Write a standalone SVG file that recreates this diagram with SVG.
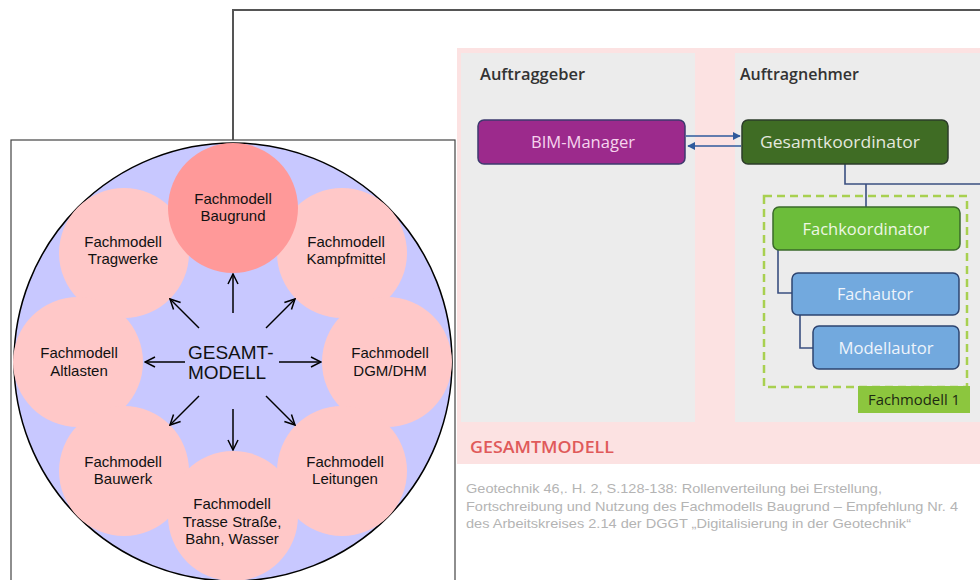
<svg xmlns="http://www.w3.org/2000/svg" width="980" height="580" viewBox="0 0 980 580">
<defs>
<marker id="open" viewBox="0 0 12 12" refX="11" refY="6" markerWidth="12" markerHeight="12" markerUnits="userSpaceOnUse" orient="auto">
<path d="M1,1 L11,6 L1,11" fill="none" stroke="#000" stroke-width="1.5"/>
</marker>
<marker id="blue" viewBox="0 0 10 10" refX="9" refY="5" markerWidth="8" markerHeight="8" markerUnits="userSpaceOnUse" orient="auto">
<path d="M0,0 L10,5 L0,10 Z" fill="#2f5a9c"/>
</marker>
<style>
.fm{font-family:"Liberation Sans",Arial,sans-serif;font-size:15px;fill:#111;text-anchor:middle}
.big{font-family:"Liberation Sans",Arial,sans-serif;font-size:19px;fill:#111}
.sub{fill:#ffc8c8}
.arr{stroke:#000;stroke-width:1.5;fill:none;marker-end:url(#open)}
.role{font-family:"Open Sans","DejaVu Sans",sans-serif;font-size:16px;text-anchor:middle}
.hd{font-family:"Open Sans","DejaVu Sans",sans-serif;font-size:16px;font-weight:600;fill:#333}
.cap{font-family:"Liberation Sans",Arial,sans-serif;font-size:13px;fill:#b4b4b4}
.con{stroke:#3a4f80;stroke-width:1.6;fill:none}
</style>
</defs>

<!-- connector frame line -->
<g id="connectors">
<path d="M233,140 V10 H980" fill="none" stroke="#555" stroke-width="2"/>
</g>

<!-- left panel -->
<g id="left-panel">
<rect x="11" y="140" width="444" height="460" fill="#fff" stroke="#444" stroke-width="1.2"/>
<circle cx="233" cy="362" r="219" fill="#c8c8ff" stroke="#000" stroke-width="1.5"/>
</g>

<g id="fm-tragwerke"><circle class="sub" cx="124" cy="253" r="65"/><text class="fm" x="123" y="247">Fachmodell</text><text class="fm" x="123" y="264">Tragwerke</text></g>
<g id="fm-kampfmittel"><circle class="sub" cx="342" cy="253" r="65"/><text class="fm" x="346" y="247">Fachmodell</text><text class="fm" x="346" y="264">Kampfmittel</text></g>
<g id="fm-altlasten"><circle class="sub" cx="78" cy="362" r="65"/><text class="fm" x="79" y="358">Fachmodell</text><text class="fm" x="79" y="376">Altlasten</text></g>
<g id="fm-dgm"><circle class="sub" cx="387" cy="362" r="65"/><text class="fm" x="390" y="358">Fachmodell</text><text class="fm" x="390" y="376">DGM/DHM</text></g>
<g id="fm-bauwerk"><circle class="sub" cx="124" cy="471" r="65"/><text class="fm" x="123" y="467">Fachmodell</text><text class="fm" x="123" y="484">Bauwerk</text></g>
<g id="fm-leitungen"><circle class="sub" cx="342" cy="471" r="65"/><text class="fm" x="345" y="467">Fachmodell</text><text class="fm" x="345" y="484">Leitungen</text></g>
<g id="fm-trasse"><circle class="sub" cx="233" cy="516" r="65"/><text class="fm" x="232" y="509">Fachmodell</text><text class="fm" x="232" y="527">Trasse Straße,</text><text class="fm" x="232" y="544">Bahn, Wasser</text></g>
<g id="fm-baugrund"><circle cx="233" cy="208" r="65" fill="#ff9999"/><text class="fm" x="233" y="204">Fachmodell</text><text class="fm" x="233" y="221">Baugrund</text></g>

<g id="gesamtmodell"><text class="big" x="188" y="359">GESAMT-</text><text class="big" x="188" y="379">MODELL</text></g>

<g id="arrows">
<line class="arr" x1="233" y1="313" x2="233" y2="274"/>
<line class="arr" x1="233" y1="409" x2="233" y2="450"/>
<line class="arr" x1="185" y1="362" x2="145" y2="362"/>
<line class="arr" x1="279" y1="362" x2="321" y2="362"/>
<line class="arr" x1="199" y1="328" x2="170" y2="299"/>
<line class="arr" x1="266" y1="328" x2="295" y2="299"/>
<line class="arr" x1="199" y1="396" x2="170" y2="425"/>
<line class="arr" x1="266" y1="396" x2="295" y2="425"/>
</g>

<!-- right figure -->
<g id="figure">
<rect x="457" y="48" width="523" height="416" fill="#fce2e2"/>
<rect x="461" y="53" width="234" height="369" fill="#ececec"/>
<rect x="735" y="53" width="245" height="369" fill="#ececec"/>
<text class="hd" x="480" y="80" textLength="105" lengthAdjust="spacingAndGlyphs">Auftraggeber</text>
<text class="hd" x="740" y="80" textLength="119" lengthAdjust="spacingAndGlyphs">Auftragnehmer</text>
<text x="470" y="453" font-family="'Open Sans','DejaVu Sans',sans-serif" font-size="16" font-weight="600" fill="#e05a5a" textLength="144" lengthAdjust="spacingAndGlyphs">GESAMTMODELL</text>
</g>

<g id="fachmodell1">
<rect x="764" y="196" width="203" height="191" fill="none" stroke="#a8d050" stroke-width="2.5" stroke-dasharray="8,5"/>
<rect x="858" y="386" width="112" height="27" fill="#8cc63e"/>
<text x="868" y="405" font-family="'Open Sans','DejaVu Sans',sans-serif" font-size="15" fill="#1d2a12" textLength="92" lengthAdjust="spacingAndGlyphs">Fachmodell 1</text>
</g>

<g id="figure-connectors">
<line x1="686" y1="136" x2="740" y2="136" stroke="#2f5a9c" stroke-width="1.6" marker-end="url(#blue)"/>
<line x1="741" y1="146" x2="688" y2="146" stroke="#2f5a9c" stroke-width="1.6" marker-end="url(#blue)"/>
<path class="con" d="M845,164 V184 H980"/>
<path class="con" d="M866,184 V207"/>
<path class="con" d="M778,250 V293 H792"/>
<path class="con" d="M800,315 V348 H813"/>
</g>

<g id="bim-manager"><rect x="478" y="120" width="207" height="44" rx="6" fill="#9c2a8c" stroke="#3d3a6e" stroke-width="1.5"/><text class="role" x="583" y="148" fill="#f6d4ee" textLength="104" lengthAdjust="spacingAndGlyphs">BIM-Manager</text></g>
<g id="gesamtkoordinator"><rect x="742" y="120" width="206" height="44" rx="6" fill="#3f6c24" stroke="#2d3c2a" stroke-width="1.5"/><text class="role" x="840" y="148" fill="#e4e8de" textLength="160" lengthAdjust="spacingAndGlyphs">Gesamtkoordinator</text></g>
<g id="fachkoordinator"><rect x="773" y="207" width="187" height="43" rx="6" fill="#6cbd3a" stroke="#3a6a2a" stroke-width="1.5"/><text class="role" x="866" y="235" fill="#eef7e4" textLength="127" lengthAdjust="spacingAndGlyphs">Fachkoordinator</text></g>
<g id="fachautor"><rect x="792" y="273" width="167" height="42" rx="6" fill="#72a9de" stroke="#2d4470" stroke-width="1.5"/><text class="role" x="875" y="300" fill="#eef4fb" textLength="76" lengthAdjust="spacingAndGlyphs">Fachautor</text></g>
<g id="modellautor"><rect x="813" y="326" width="146" height="43" rx="6" fill="#72a9de" stroke="#2d4470" stroke-width="1.5"/><text class="role" x="886" y="354" fill="#eef4fb" textLength="95" lengthAdjust="spacingAndGlyphs">Modellautor</text></g>

<g id="caption">
<text class="cap" x="466" y="493" textLength="416" lengthAdjust="spacingAndGlyphs">Geotechnik 46,. H. 2, S.128-138: Rollenverteilung bei Erstellung,</text>
<text class="cap" x="466" y="511" textLength="492" lengthAdjust="spacingAndGlyphs">Fortschreibung und Nutzung des Fachmodells Baugrund – Empfehlung Nr. 4</text>
<text class="cap" x="466" y="528" textLength="445" lengthAdjust="spacingAndGlyphs">des Arbeitskreises 2.14 der DGGT „Digitalisierung in der Geotechnik“</text>
</g>
</svg>
